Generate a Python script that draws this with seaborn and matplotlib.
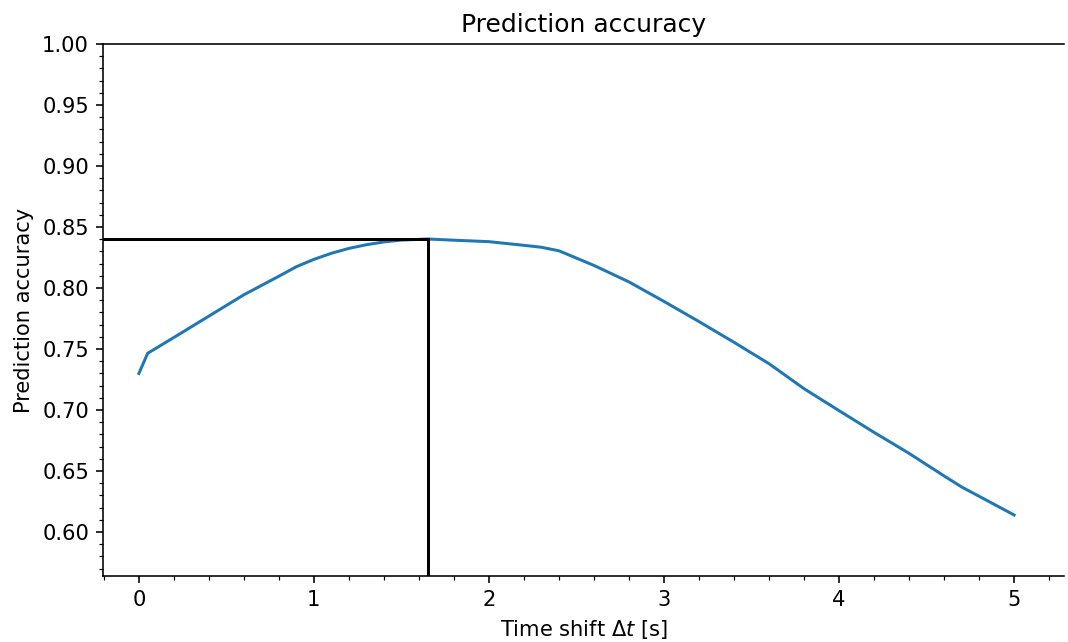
import matplotlib
matplotlib.use("Agg")
import matplotlib.pyplot as plt
import seaborn as sns
import pandas as pd
from matplotlib.ticker import MultipleLocator, FormatStrFormatter

time_shift = [0.0, 0.05, 0.2, 0.4, 0.6, 0.8, 0.9, 1.0, 1.1, 1.2, 1.3, 1.4, 1.5,
              1.65, 1.8, 2.0, 2.2, 2.3, 2.4, 2.5, 2.6, 2.8, 3.0, 3.2, 3.4, 3.6,
              3.8, 4.0, 4.2, 4.4, 4.6, 4.7, 5.0]
accuracy = [0.730, 0.7465, 0.7595, 0.777, 0.7945, 0.8097, 0.8175, 0.8235, 0.8285,
            0.8325, 0.8355, 0.8378, 0.8393, 0.8402, 0.8392, 0.838, 0.835, 0.8334,
            0.8305, 0.8245, 0.8185, 0.805, 0.789, 0.7725, 0.7555, 0.738, 0.7175,
            0.6995, 0.6817, 0.6645, 0.646, 0.637, 0.614]
best_shift = 1.65
best_acc = 0.840

df = pd.DataFrame({"shift": time_shift, "acc": accuracy})

dpi = 144
fig = plt.figure(figsize=(1068 / dpi, 642 / dpi), dpi=dpi)
ax = fig.add_axes([103 / 1068, 1 - 576 / 642, (1064 - 103) / 1068, (576 - 44) / 642])

sns.lineplot(data=df, x="shift", y="acc", ax=ax, color="#1f77b4", linewidth=1.5)

xlim = (-0.205, 5.285)
ylim = (0.564, 1.0)
ax.set_xlim(*xlim)
ax.set_ylim(*ylim)

ax.plot([xlim[0], best_shift], [best_acc, best_acc], color="black", linewidth=1.5)
ax.plot([best_shift, best_shift], [ylim[0], best_acc], color="black", linewidth=1.5)

ax.xaxis.set_major_locator(MultipleLocator(1))
ax.xaxis.set_minor_locator(MultipleLocator(0.2))
ax.yaxis.set_major_locator(MultipleLocator(0.05))
ax.yaxis.set_minor_locator(MultipleLocator(0.01))
ax.yaxis.set_major_formatter(FormatStrFormatter("%.2f"))
ax.tick_params(labelsize=10.5)

ax.spines["right"].set_visible(False)

ax.set_title("Prediction accuracy", fontsize=12.5)
ax.set_xlabel(r"Time shift $\Delta t$ [s]", fontsize=10.5)
ax.set_ylabel("Prediction accuracy", fontsize=10.5)

fig.savefig("out.png", dpi=dpi)
